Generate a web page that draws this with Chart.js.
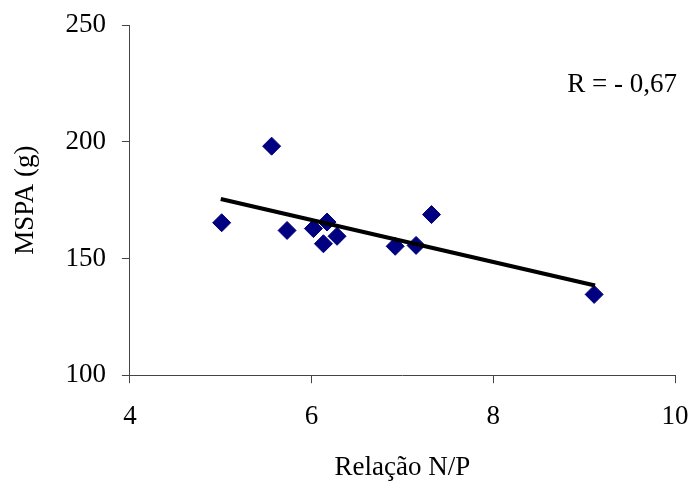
<!DOCTYPE html>
<html>
<head>
<meta charset="utf-8">
<script src="https://cdn.jsdelivr.net/npm/chart.js@4"></script>
<style>
html,body{margin:0;padding:0;background:#fff;}
#wrap{width:693px;height:484px;}
</style>
</head>
<body>
<div id="wrap"><canvas id="c" width="693" height="484"></canvas></div>
<script>
// Data
const relacaoNP = [5.01, 5.56, 5.73, 6.02, 6.17, 6.13, 6.28, 6.92, 7.15, 7.32, 9.11];
const mspa      = [165.3, 198.1, 162.0, 162.8, 165.6, 156.3, 159.5, 155.2, 155.6, 168.8, 134.6];
const trendX = [5.0, 9.12];
const trendY = [175.5, 138.4];
const xTicks = [4, 6, 8, 10];
const yTicks = [100, 150, 200, 250];
const xTitle = 'Relação N/P';
const yTitle = 'MSPA (g)';
const rLabel = 'R = - 0,67';

const FONT = "'Liberation Serif', 'Times New Roman', serif";
const FS = 27;

const annot = {
  id: 'rlabel',
  afterDraw(chart) {
    const ctx = chart.ctx;
    const a = chart.chartArea;
    ctx.save();
    ctx.font = FS + 'px ' + FONT;
    ctx.fillStyle = '#000';
    ctx.textAlign = 'right';
    ctx.textBaseline = 'alphabetic';
    ctx.fillText(rLabel, a.right + 2, 92);
    ctx.restore();
  }
};

new Chart(document.getElementById('c'), {
  type: 'scatter',
  data: {
    datasets: [
      {
        label: 'MSPA',
        data: relacaoNP.map((x, i) => ({x: x, y: mspa[i]})),
        pointStyle: 'rectRot',
        pointRadius: 9,
        pointBackgroundColor: '#000080',
        pointBorderColor: '#000080',
        pointBorderWidth: 1,
        showLine: false,
        order: 2
      },
      {
        label: 'trend',
        type: 'line',
        data: trendX.map((x, i) => ({x: x, y: trendY[i]})),
        borderColor: '#000',
        borderWidth: 4,
        pointRadius: 0,
        fill: false,
        order: 1
      }
    ]
  },
  options: {
    responsive: false,
    animation: false,
    events: [],
    layout: {padding: {top: 25, right: 18, left: 10, bottom: 0}},
    plugins: {legend: {display: false}, tooltip: {enabled: false}},
    scales: {
      x: {
        type: 'linear',
        min: 4, max: 10,
        afterBuildTicks: s => { s.ticks = xTicks.map(v => ({value: v})); },
        afterFit: s => { s.paddingLeft = 0; s.paddingRight = 0; },
        grid: {display: true, drawOnChartArea: false, drawTicks: true, tickLength: 8, color: '#444'},
        border: {display: true, color: '#444', width: 1},
        ticks: {color: '#000', font: {family: FONT, size: FS}, padding: 18, maxRotation: 0},
        title: {display: true, text: xTitle, color: '#000', font: {family: FONT, size: FS}, padding: {top: 0, bottom: 0}}
      },
      y: {
        type: 'linear',
        min: 100, max: 250,
        afterBuildTicks: s => { s.ticks = yTicks.map(v => ({value: v})); },
        afterFit: s => { s.paddingTop = 0; s.paddingBottom = 0; },
        grid: {display: true, drawOnChartArea: false, drawTicks: true, tickLength: 8, color: '#444'},
        border: {display: true, color: '#444', width: 1},
        ticks: {color: '#000', font: {family: FONT, size: FS}, padding: 16},
        title: {display: true, text: yTitle, color: '#000', font: {family: FONT, size: FS}, padding: {top: 0, bottom: 7}}
      }
    }
  },
  plugins: [annot]
});
</script>
</body>
</html>
